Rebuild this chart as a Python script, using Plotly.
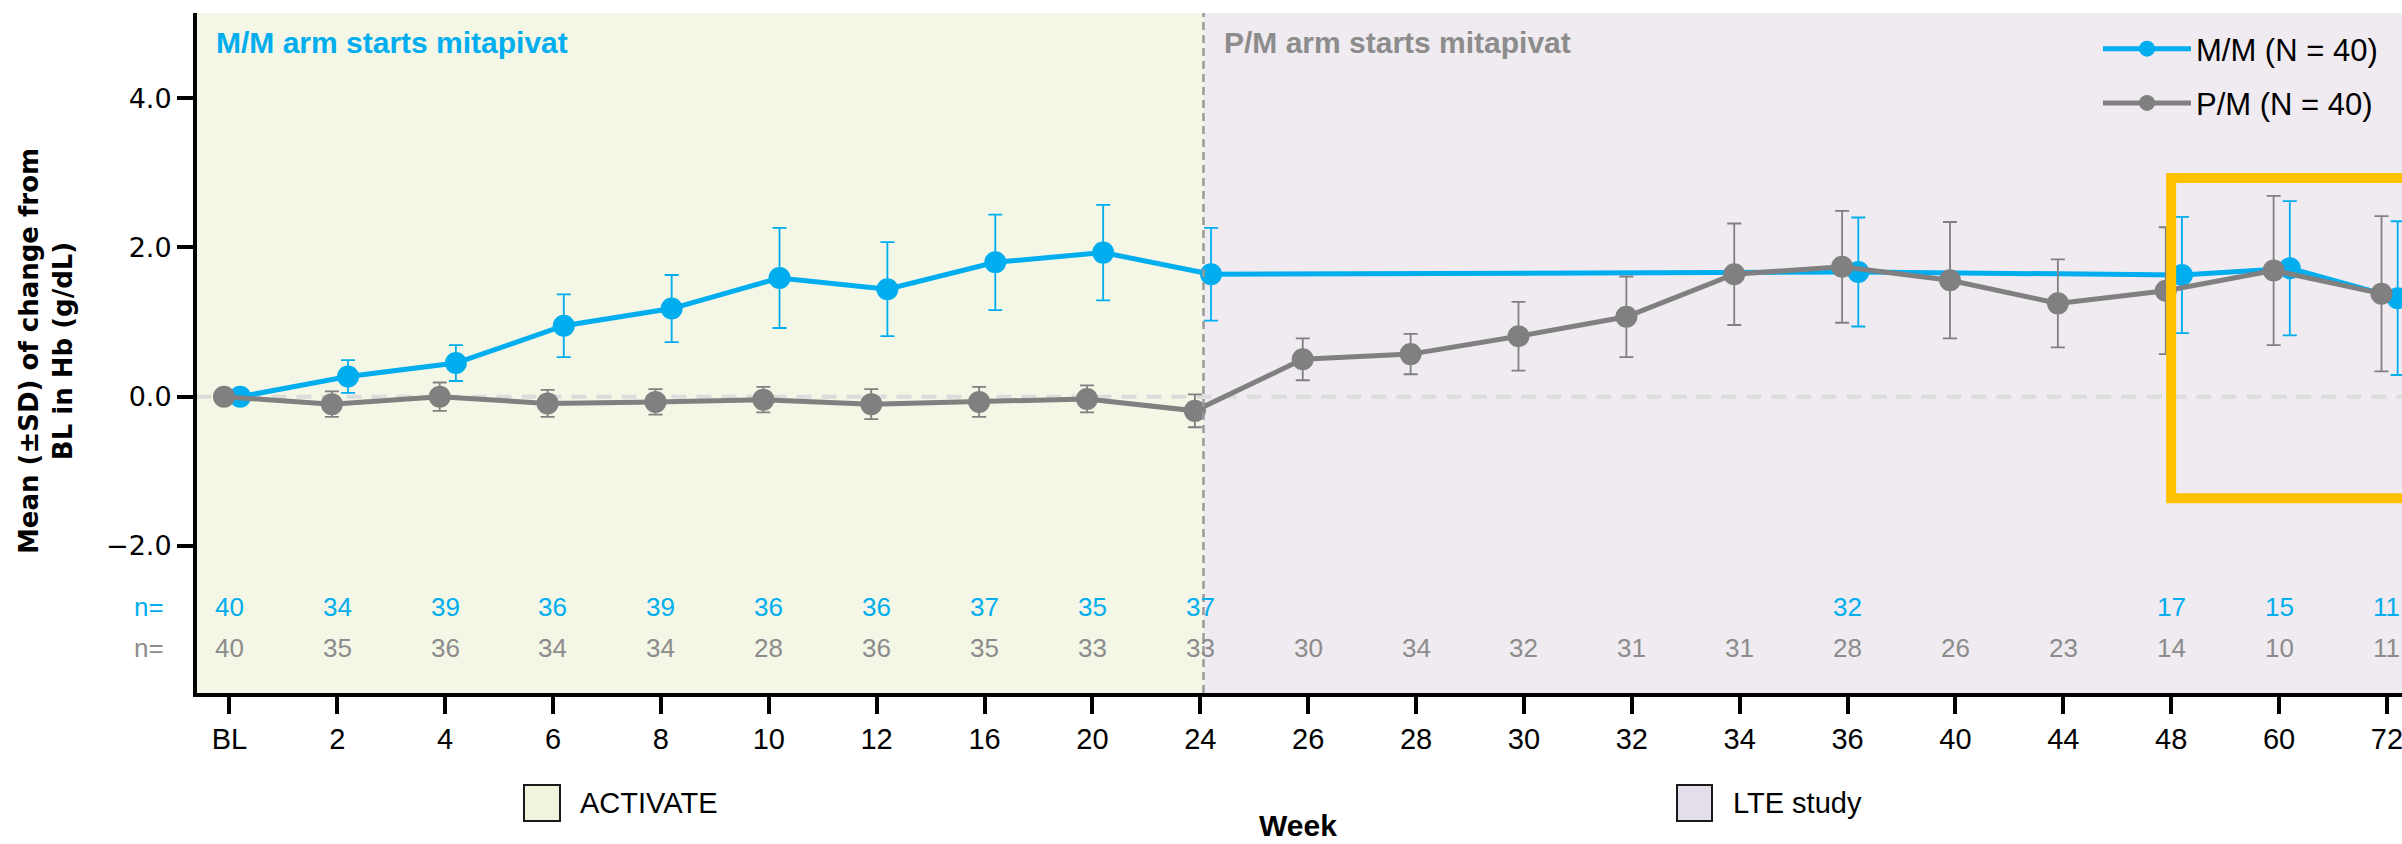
import plotly.graph_objects as go

# ---------------- data ----------------
weeks = ["BL", "2", "4", "6", "8", "10", "12", "16", "20", "24", "26", "28",
         "30", "32", "34", "36", "40", "44", "48", "60", "72"]

mm_mean = [0.0, 0.27, 0.45, 0.95, 1.18, 1.59, 1.44, 1.80, 1.93, 1.64,
           None, None, None, None, None, 1.67, None, None, 1.63, 1.72, 1.32]
mm_sd = [0.0, 0.22, 0.24, 0.42, 0.45, 0.67, 0.63, 0.64, 0.64, 0.62,
         None, None, None, None, None, 0.73, None, None, 0.78, 0.90, 1.03]

pm_mean = [0.0, -0.10, 0.0, -0.09, -0.07, -0.04, -0.10, -0.07, -0.03, -0.19,
           0.50, 0.57, 0.81, 1.07, 1.64, 1.74, 1.56, 1.25, 1.42, 1.69, 1.38]
pm_sd = [0.0, 0.17, 0.19, 0.18, 0.17, 0.17, 0.20, 0.20, 0.18, 0.22,
         0.28, 0.27, 0.46, 0.54, 0.68, 0.75, 0.78, 0.59, 0.85, 1.00, 1.04]

mm_n = ["40", "34", "39", "36", "39", "36", "36", "37", "35", "37",
        "", "", "", "", "", "32", "", "", "17", "15", "11"]
pm_n = ["40", "35", "36", "34", "34", "28", "36", "35", "33", "33",
        "30", "34", "32", "31", "31", "28", "26", "23", "14", "10", "11"]

y_ticks = [-2.0, 0.0, 2.0, 4.0]
y_ticktext = ["\u22122.0", "0.0", "2.0", "4.0"]

legend_names = ["M/M (N = 40)", "P/M (N = 40)"]
phase_names = ["ACTIVATE", "LTE study"]
switch_index = 9          # week 24
box_start_index = 18      # week 48
box_y = [-1.36, 2.93]

# ---------------- style ----------------
BLUE = "#00AEEF"
GRAY = "#808080"
GRAY_TXT = "#8C8C8C"
BG_ACT = "#F4F6E6"
BG_LTE = "#EFEBF0"
BOX_ACT = "#F1F4DC"
BOX_LTE = "#E4DEEA"
ORANGE = "#FFC000"
SANS = "Liberation Sans, Arial, sans-serif"
DEJAVU = "DejaVu Sans, sans-serif"

W, H = 2402, 844
ML, MR, MT, MB = 197, 0, 13, 151
PW, PH = W - ML - MR, H - MT - MB


def px_x(p):
    return (p - ML) / PW


def px_y(p):
    return (H - MB - p) / PH


idx = list(range(len(weeks)))
mm_idx = [i for i in idx if mm_mean[i] is not None]

fig = go.Figure()

fig.add_trace(go.Scatter(
    x=[i + 0.10 for i in mm_idx],
    y=[mm_mean[i] for i in mm_idx],
    error_y=dict(type="data", array=[mm_sd[i] for i in mm_idx], symmetric=True,
                 color=BLUE, thickness=1.8, width=7),
    mode="lines+markers",
    line=dict(color=BLUE, width=5),
    marker=dict(color=BLUE, size=22),
    name=legend_names[0],
    legendgroup="a",
))

fig.add_trace(go.Scatter(
    x=[i - 0.05 for i in idx],
    y=pm_mean,
    error_y=dict(type="data", array=pm_sd, symmetric=True,
                 color=GRAY, thickness=1.8, width=7),
    mode="lines+markers",
    line=dict(color=GRAY, width=5),
    marker=dict(color=GRAY, size=22),
    name=legend_names[1],
    legendgroup="b",
))

shapes = [
    dict(type="rect", xref="x", yref="paper", x0=-1, x1=switch_index + 0.03, y0=0, y1=1,
         fillcolor=BG_ACT, line=dict(width=0), layer="below"),
    dict(type="rect", xref="x", yref="paper", x0=switch_index + 0.03, x1=len(weeks) + 1, y0=0, y1=1,
         fillcolor=BG_LTE, line=dict(width=0), layer="below"),
    dict(type="line", xref="x", yref="y", x0=-1, x1=len(weeks) + 1, y0=0, y1=0,
         line=dict(color="#DCDCDC", width=4, dash="15px,10px"), layer="below"),
    dict(type="line", xref="x", yref="paper", x0=switch_index + 0.03, x1=switch_index + 0.03, y0=0, y1=1,
         line=dict(color="#9A9A9A", width=2.5, dash="8px,5px"), layer="above"),
    dict(type="rect", xref="x", yref="y", x0=box_start_index, x1=len(weeks) + 1,
         y0=box_y[0], y1=box_y[1],
         line=dict(color=ORANGE, width=10), fillcolor="rgba(0,0,0,0)", layer="above"),
    # bottom phase legend boxes
    dict(type="rect", xref="paper", yref="paper",
         x0=px_x(524), x1=px_x(560), y0=px_y(821), y1=px_y(785),
         fillcolor=BOX_ACT, line=dict(color="#1a1a1a", width=2)),
    dict(type="rect", xref="paper", yref="paper",
         x0=px_x(1677), x1=px_x(1712), y0=px_y(821), y1=px_y(785),
         fillcolor=BOX_LTE, line=dict(color="#1a1a1a", width=2)),
]

annotations = []
for i in idx:
    if mm_n[i]:
        annotations.append(dict(x=i, y=-2.82, xref="x", yref="y", text=mm_n[i], showarrow=False,
                                font=dict(family=SANS, size=26, color=BLUE)))
    annotations.append(dict(x=i, y=-3.37, xref="x", yref="y", text=pm_n[i], showarrow=False,
                            font=dict(family=SANS, size=26, color=GRAY_TXT)))

annotations += [
    dict(x=px_x(166), y=-2.82, xref="paper", yref="y", text="n=", showarrow=False,
         xanchor="right", font=dict(family=SANS, size=26, color=BLUE)),
    dict(x=px_x(166), y=-3.37, xref="paper", yref="y", text="n=", showarrow=False,
         xanchor="right", font=dict(family=SANS, size=26, color=GRAY_TXT)),
    dict(x=px_x(214), y=px_y(43), xref="paper", yref="paper", text="<b>M/M arm starts mitapivat</b>",
         showarrow=False, xanchor="left", yanchor="middle",
         font=dict(family=SANS, size=30, color=BLUE)),
    dict(x=px_x(1222), y=px_y(43), xref="paper", yref="paper", text="<b>P/M arm starts mitapivat</b>",
         showarrow=False, xanchor="left", yanchor="middle",
         font=dict(family=SANS, size=30, color=GRAY_TXT)),
    dict(x=px_x(578), y=px_y(803), xref="paper", yref="paper", text=phase_names[0],
         showarrow=False, xanchor="left", yanchor="middle",
         font=dict(family=SANS, size=29, color="black")),
    dict(x=px_x(1731), y=px_y(803), xref="paper", yref="paper", text=phase_names[1],
         showarrow=False, xanchor="left", yanchor="middle",
         font=dict(family=SANS, size=29, color="black")),
    dict(x=px_x(1298), y=px_y(825), xref="paper", yref="paper", text="<b>Week</b>",
         showarrow=False, xanchor="center", yanchor="middle",
         font=dict(family=SANS, size=30, color="black")),
    dict(x=px_x(46), y=px_y(351), xref="paper", yref="paper",
         text="<b>Mean (±SD) of change from<br>BL in Hb (g/dL)</b>",
         showarrow=False, textangle=-90, xanchor="center", yanchor="middle",
         font=dict(family=DEJAVU, size=26, color="black")),
]

fig.update_layout(
    width=W, height=H,
    margin=dict(l=ML, r=MR, t=MT, b=MB, pad=0, autoexpand=False),
    paper_bgcolor="white", plot_bgcolor="white",
    shapes=shapes, annotations=annotations,
    showlegend=True,
    legend=dict(x=px_x(2098), y=px_y(22), xanchor="left", yanchor="top",
                bgcolor="rgba(0,0,0,0)", font=dict(family=SANS, size=31, color="black"),
                itemwidth=88, traceorder="grouped", tracegroupgap=11),
    xaxis=dict(range=[-0.30, 20.14], tickmode="array", tickvals=idx, ticktext=weeks,
               showgrid=False, zeroline=False, showline=True, linecolor="black", linewidth=4,
               ticks="outside", ticklen=17, tickwidth=4, tickcolor="black", automargin=False,
               ticklabeloverflow="allow",
               tickfont=dict(family=SANS, size=29, color="black")),
    yaxis=dict(range=[-3.97, 5.14], tickmode="array", tickvals=y_ticks, ticktext=y_ticktext,
               showgrid=False, zeroline=False, showline=True, linecolor="black", linewidth=4,
               ticks="outside", ticklen=16, tickwidth=4, tickcolor="black", automargin=False,
               tickfont=dict(family=DEJAVU, size=27, color="black")),
)

fig.write_html("out.html", config={"displayModeBar": False},
               post_script="document.body.style.margin='0';document.body.style.overflow='hidden';")
